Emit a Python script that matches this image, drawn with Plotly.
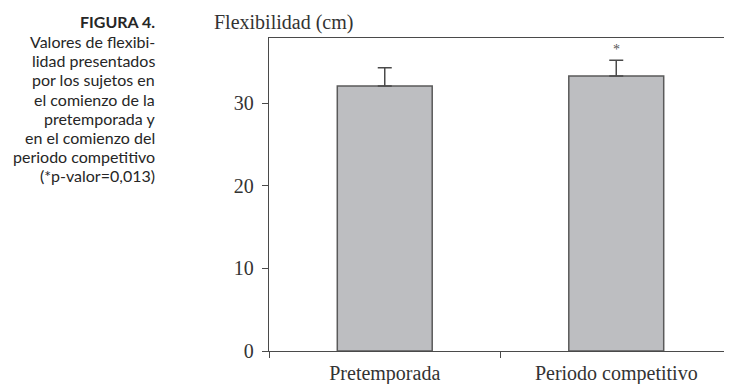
import plotly.graph_objects as go

categories = ["Pretemporada", "Periodo competitivo"]
means = [32.1, 33.3]
sd_upper = [2.2, 1.9]
significance = ["", "*"]
y_tickvals = [0, 10, 20, 30]
y_title = "Flexibilidad (cm)"
caption_title = "FIGURA 4."
caption_lines = [
    "Valores de flexibi-",
    "lidad presentados",
    "por los sujetos en",
    "el comienzo de la",
    "pretemporada y",
    "en el comienzo del",
    "periodo competitivo",
    "(*p-valor=0,013)",
]

OFF = 8  # page body margin
W, H = 732 - OFF, 384 - OFF
L, R, T, B = 269 - OFF, 0, 38 - OFF, 33
PW, PH = W - L - R, H - T - B


def px_x(x):
    return (x - OFF - L) / PW


def px_y(y):
    return (H - B - (y - OFF)) / PH


axis_col = "#4a4a4a"
serif = "Liberation Serif, Times New Roman, serif"

fig = go.Figure()
fig.add_trace(go.Bar(
    x=categories, y=means, width=0.41,
    marker=dict(color="#bdbec1", line=dict(color="#5a5a5a", width=1.5)),
    error_y=dict(type="data", symmetric=False, array=sd_upper,
                 arrayminus=[0] * len(means), color="#4a4a4a",
                 thickness=1.5, width=7),
    hoverinfo="skip", showlegend=False,
))

for c, m, s, sig in zip(categories, means, sd_upper, significance):
    if sig:
        fig.add_annotation(x=c, y=m + s, xref="x", yref="y", text=sig,
                           showarrow=False, yanchor="bottom", yshift=1,
                           font=dict(family=serif, size=14, color="#555"))

fig.add_annotation(x=px_x(212), y=px_y(22), xref="paper", yref="paper",
                   text=y_title, showarrow=False, xanchor="left",
                   yanchor="middle",
                   font=dict(family=serif, size=20, color="#333"))

cap_font = "Lato, sans-serif"
cap_col = "#262626"
fig.add_annotation(x=px_x(157), y=px_y(21.7), xref="paper", yref="paper",
                   text="<b>" + caption_title + "</b>", showarrow=False,
                   xanchor="right", yanchor="middle",
                   font=dict(family=cap_font, size=16, color=cap_col))
for i, line in enumerate(caption_lines):
    fig.add_annotation(x=px_x(157), y=px_y(41.5 + 19.2 * i), xref="paper",
                       yref="paper", text=line, showarrow=False,
                       xanchor="right", yanchor="middle",
                       font=dict(family=cap_font, size=16, color=cap_col))

fig.update_layout(
    width=W, height=H,
    margin=dict(l=L, r=R, t=T, b=B, pad=0),
    paper_bgcolor="white", plot_bgcolor="white",
    xaxis=dict(
        type="category", tickson="boundaries", ticks="outside",
        ticklen=6, tickcolor=axis_col, tickwidth=1.3,
        showline=True, linecolor=axis_col, linewidth=1.3, mirror=True,
        showgrid=False, zeroline=False,
        tickfont=dict(family=serif, size=20, color="#333"),
        ticklabelstandoff=4,
        range=[-0.5, 1.5],
    ),
    yaxis=dict(
        range=[0, 37.9], tickvals=y_tickvals, ticks="outside",
        ticklen=6, tickcolor=axis_col, tickwidth=1.3,
        showline=True, linecolor=axis_col, linewidth=1.3,
        showgrid=False, zeroline=False,
        tickfont=dict(family=serif, size=20, color="#333"),
        ticklabelstandoff=4,
    ),
)

fig.write_html("out.html")
